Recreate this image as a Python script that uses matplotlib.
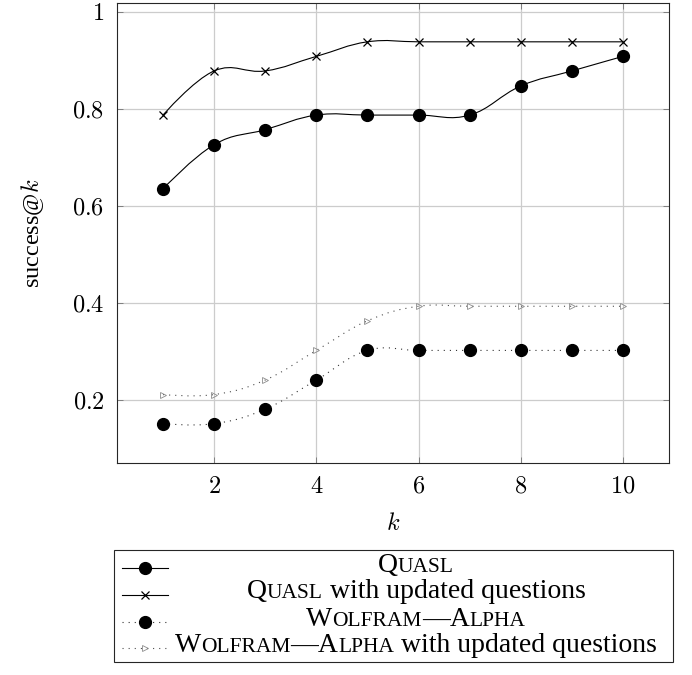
import numpy as np
import matplotlib
matplotlib.use('Agg')
import matplotlib.pyplot as plt
from matplotlib.path import Path
from matplotlib.patches import PathPatch, Rectangle
from matplotlib.lines import Line2D
from matplotlib.offsetbox import TextArea, HPacker, AnnotationBbox

plt.rcParams['font.family'] = ['Liberation Serif', 'DejaVu Serif']
plt.rcParams['mathtext.fontset'] = 'cm'

# success@k for k = 1..10
k = [1, 2, 3, 4, 5, 6, 7, 8, 9, 10]
quasl = [0.636, 0.727, 0.758, 0.788, 0.788, 0.788, 0.788, 0.848, 0.879, 0.909]
quasl_upd = [0.788, 0.879, 0.879, 0.909, 0.939, 0.939, 0.939, 0.939, 0.939, 0.939]
wolfram = [0.152, 0.152, 0.182, 0.242, 0.303, 0.303, 0.303, 0.303, 0.303, 0.303]
wolfram_upd = [0.212, 0.212, 0.242, 0.303, 0.364, 0.394, 0.394, 0.394, 0.394, 0.394]

xticks = [2, 4, 6, 8, 10]
yticks = [0.2, 0.4, 0.6, 0.8, 1.0]
ytick_labels = ['$0.2$', '$0.4$', '$0.6$', '$0.8$', '$1$']

W, H = 692, 675
DOTTED = (0, (1, 4.5))


def smooth_path(x, y, t=0.2):
    # pgf-style "smooth" curve through the points
    pts = np.column_stack([x, y]).astype(float)
    n = len(pts)
    verts = [pts[0]]
    codes = [Path.MOVETO]
    for i in range(n - 1):
        p0, p1 = pts[i], pts[i + 1]
        c1 = p0 + t * (pts[i + 1] - pts[i - 1]) if i > 0 else p0
        c2 = p1 - t * (pts[i + 2] - pts[i]) if i + 2 < n else p1
        verts += [c1, c2, p1]
        codes += [Path.CURVE4] * 3
    return Path(verts, codes)


fig = plt.figure(figsize=(W / 100, H / 100), dpi=100)
ax = fig.add_axes([117 / W, 1 - 463 / H, (669 - 117) / W, (463 - 3) / H])

series = [
    (quasl, '-', 'k', dict(marker='o', ms=8.5, mfc='k', mec='k')),
    (quasl_upd, '-', 'k', dict(marker='x', ms=5.5, mew=0.9, mec='k')),
    (wolfram, DOTTED, '0.2', dict(marker='o', ms=8.5, mfc='k', mec='k')),
    (wolfram_upd, DOTTED, '0.3', dict(marker='>', ms=5, mfc='none', mec='0.55', mew=0.6)),
]

for vals, ls, col, mk in series:
    ax.add_patch(PathPatch(smooth_path(k, vals), fill=False, edgecolor=col,
                           linewidth=0.8, linestyle=ls, zorder=3))
    ax.plot(k, vals, linestyle='none', zorder=4, **mk)

ax.set_xlim(0.1, 10.9)
ax.set_ylim(0.071, 1.019)
ax.set_xticks(xticks)
ax.set_xticklabels([f'${v}$' for v in xticks], fontsize=17.5)
ax.set_yticks(yticks)
ax.set_yticklabels(ytick_labels, fontsize=17.5)
ax.tick_params(direction='in', length=4, width=0.6, color='0.45',
               top=True, right=True, pad=9)
ax.tick_params(axis='x', pad=10)
ax.grid(True, color='0.8', linewidth=0.9)
ax.set_axisbelow(True)
for s in ax.spines.values():
    s.set_linewidth(0.8)
    s.set_color('0.15')

ax.set_xlabel('$k$', fontsize=17.5, labelpad=11)
ax.set_ylabel('success@$k$', fontsize=17.5, labelpad=19)

# legend, built by hand to get the small caps
fig.patches.append(Rectangle((114 / W, 1 - 662 / H), (673 - 114) / W, (662 - 550) / H,
                             transform=fig.transFigure, fill=False,
                             edgecolor='0.15', linewidth=0.8))

BIG, SMALL = 20, 15.5


def sc_label(parts):
    kids = [TextArea(txt, textprops=dict(fontsize=BIG if big else SMALL,
                                         family='Liberation Serif'))
            for txt, big in parts]
    return HPacker(children=kids, align='baseline', pad=0, sep=0)


labels = [
    [('Q', True), ('UASL', False)],
    [('Q', True), ('UASL', False), (' with updated questions', True)],
    [('W', True), ('OLFRAM', False), ('—A', True), ('LPHA', False)],
    [('W', True), ('OLFRAM', False), ('—A', True), ('LPHA', False),
     (' with updated questions', True)],
]
row_y = [568, 595, 622, 648]

for (vals, ls, col, mk), lab, yy in zip(series, labels, row_y):
    fy = 1 - yy / H
    fig.add_artist(Line2D([122 / W, 168 / W], [fy, fy], transform=fig.transFigure,
                          color=col, linewidth=0.8, linestyle=ls))
    fig.add_artist(Line2D([145 / W], [fy], transform=fig.transFigure,
                          linestyle='none', **mk))
    ab = AnnotationBbox(sc_label(lab), (416 / W, fy), xycoords='figure fraction',
                        box_alignment=(0.5, 0.38), frameon=False, pad=0)
    fig.add_artist(ab)

plt.savefig('out.png', dpi=100)
